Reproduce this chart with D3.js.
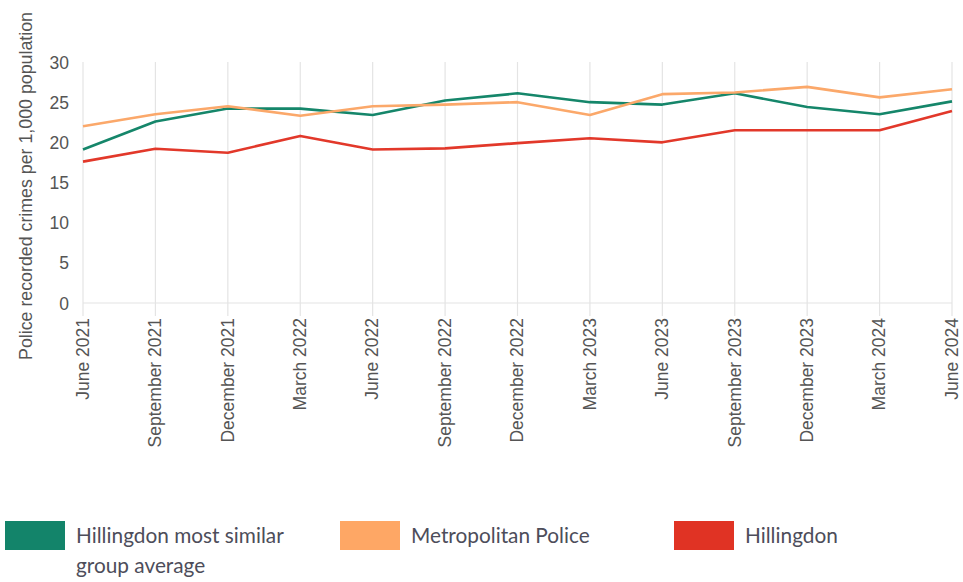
<!DOCTYPE html>
<html><head><meta charset="utf-8">
<script src="https://cdn.jsdelivr.net/npm/d3@7"></script>
<style>body{margin:0;background:#fff;} svg{display:block;}</style>
</head><body>
<svg id="chart" width="963" height="582"></svg>
<script>
const categories = ["June 2021","September 2021","December 2021","March 2022","June 2022","September 2022","December 2022","March 2023","June 2023","September 2023","December 2023","March 2024","June 2024"];
const similarGroup = [19.1,22.6,24.2,24.2,23.4,25.2,26.1,25.0,24.7,26.1,24.4,23.5,25.1];
const metPolice    = [22.0,23.5,24.5,23.3,24.5,24.7,25.0,23.4,26.0,26.2,26.9,25.6,26.6];
const hillingdon   = [17.6,19.2,18.7,20.8,19.1,19.25,19.9,20.5,20.0,21.5,21.5,21.5,23.9];
const yTicks = [0,5,10,15,20,25,30];
const seriesNames = ["Hillingdon most similar group average","Metropolitan Police","Hillingdon"];
const yTitle = "Police recorded crimes per 1,000 population";

const series = [
  {name: seriesNames[0], values: similarGroup, color: "#15866a", swatch: "#13846a"},
  {name: seriesNames[1], values: metPolice, color: "#fba86a", swatch: "#fea765"},
  {name: seriesNames[2], values: hillingdon, color: "#e2382a", swatch: "#e03324"}
];

const svg = d3.select("#chart");
const mLeft = 83, mRight = 952, mTop = 62, mBottom = 303;
const x = d3.scalePoint().domain(categories).range([mLeft, mRight]);
const y = d3.scaleLinear().domain([0,30]).range([mBottom, mTop]);

const grid = "#e4e4e4";
svg.append("g").selectAll("line").data(categories).join("line")
  .attr("x1", d => x(d)).attr("x2", d => x(d))
  .attr("y1", mTop).attr("y2", mBottom + 13)
  .attr("stroke", grid).attr("stroke-width", 1.2);
svg.append("line").attr("x1", mLeft).attr("x2", mRight)
  .attr("y1", y(0)).attr("y2", y(0)).attr("stroke", grid).attr("stroke-width", 1.2);

const yAxis = d3.axisLeft(y).tickValues(yTicks).tickSize(0).tickPadding(0);
const yg = svg.append("g").attr("transform", `translate(${mLeft - 14},0)`).call(yAxis);
yg.select(".domain").remove();
yg.selectAll("text").attr("font-family","'Liberation Sans', Arial, sans-serif")
  .attr("font-size", 17.5).attr("fill", "#555").attr("dy","0.35em");

const xAxis = d3.axisBottom(x).tickSize(0).tickPadding(0);
const xg = svg.append("g").attr("transform", `translate(0,${mBottom + 15})`).call(xAxis);
xg.select(".domain").remove();
xg.selectAll("text")
  .attr("font-family","'Liberation Sans', Arial, sans-serif")
  .attr("font-size", 17.5).attr("fill", "#555")
  .attr("text-anchor","end")
  .attr("transform","rotate(-90)")
  .attr("x", 0).attr("y", 0).attr("dy","0.3em");

svg.append("text")
  .attr("transform", "translate(32,186) rotate(-90)")
  .attr("text-anchor","middle")
  .attr("font-family","'Liberation Sans', Arial, sans-serif")
  .attr("font-size", 17.8).attr("fill","#555")
  .text(yTitle);

const line = d3.line().x((d,i) => x(categories[i])).y(d => y(d));
svg.append("g").selectAll("path").data(series).join("path")
  .attr("d", d => line(d.values))
  .attr("fill","none").attr("stroke", d => d.color)
  .attr("stroke-width", 2.6).attr("stroke-linejoin","round");

const legendX = [5, 340, 674];
const lg = svg.append("g");
series.forEach((s, i) => {
  lg.append("rect").attr("x", legendX[i]).attr("y", 521).attr("width", 60).attr("height", 29).attr("fill", s.swatch);
  const t = lg.append("text").attr("x", legendX[i] + 71).attr("y", 543)
    .attr("font-family","Lato, sans-serif").attr("font-size", 20.8).attr("fill","#4d4d5a");
  if (i === 0) {
    t.append("tspan").attr("x", legendX[i] + 71).text("Hillingdon most similar");
    t.append("tspan").attr("x", legendX[i] + 71).attr("dy", 30).text("group average");
  } else {
    t.text(s.name);
  }
});
</script>
</body></html>
